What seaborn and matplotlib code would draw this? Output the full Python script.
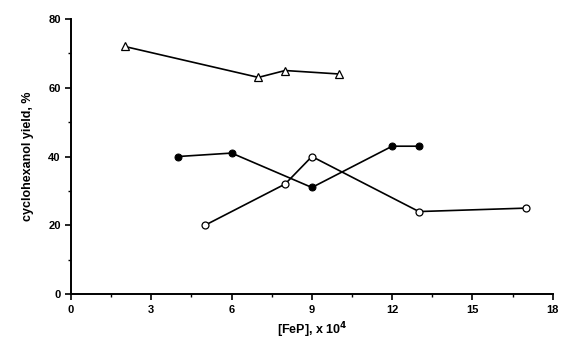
import numpy as np
import pandas as pd
import matplotlib
matplotlib.use("Agg")
import matplotlib.pyplot as plt
import seaborn as sns
from matplotlib.ticker import MultipleLocator

# data
tri_x = [2, 7, 8, 10]
tri_y = [72, 63, 65, 64]

filled_x = [4, 6, 9, 12, 13]
filled_y = [40, 41, 31, 43, 43]

open_x = [5, 8, 9, 13, 17]
open_y = [20, 32, 40, 24, 25]

sns.set_theme(style="ticks")
plt.rcParams['font.family'] = ['Liberation Sans', 'DejaVu Sans']

fig = plt.figure(figsize=(5.64, 3.44), dpi=100)
ax = fig.add_axes([0.126, 0.145, 0.854, 0.80])

sns.lineplot(x=tri_x, y=tri_y, ax=ax, color="black", linewidth=1.2,
             marker="^", markersize=6, markerfacecolor="white",
             markeredgecolor="black", markeredgewidth=0.9)
sns.lineplot(x=filled_x, y=filled_y, ax=ax, color="black", linewidth=1.2,
             marker="o", markersize=5, markerfacecolor="black",
             markeredgecolor="black")
sns.lineplot(x=open_x, y=open_y, ax=ax, color="black", linewidth=1.2,
             marker="o", markersize=5, markerfacecolor="white",
             markeredgecolor="black", markeredgewidth=0.9)

ax.set_xlim(0, 18)
ax.set_ylim(0, 80)
ax.xaxis.set_major_locator(MultipleLocator(3))
ax.xaxis.set_minor_locator(MultipleLocator(1.5))
ax.yaxis.set_major_locator(MultipleLocator(20))
ax.yaxis.set_minor_locator(MultipleLocator(10))
ax.tick_params(which="major", direction="out", length=4, width=1.2,
               labelsize=8, colors="black")
ax.tick_params(which="minor", direction="out", length=2.5, width=1.0,
               colors="black")
for lab in ax.get_xticklabels() + ax.get_yticklabels():
    lab.set_fontweight("bold")

sns.despine(ax=ax)
ax.spines["left"].set_linewidth(1.4)
ax.spines["bottom"].set_linewidth(1.4)
ax.spines["left"].set_color("black")
ax.spines["bottom"].set_color("black")

ax.set_xlabel(r"[FeP], x 10$^{\mathbf{4}}$", fontsize=9, fontweight="bold",
              color="black")
ax.set_ylabel("cyclohexanol yield, %", fontsize=9, fontweight="bold",
              color="black", labelpad=10)

fig.savefig("out.png", dpi=100)
